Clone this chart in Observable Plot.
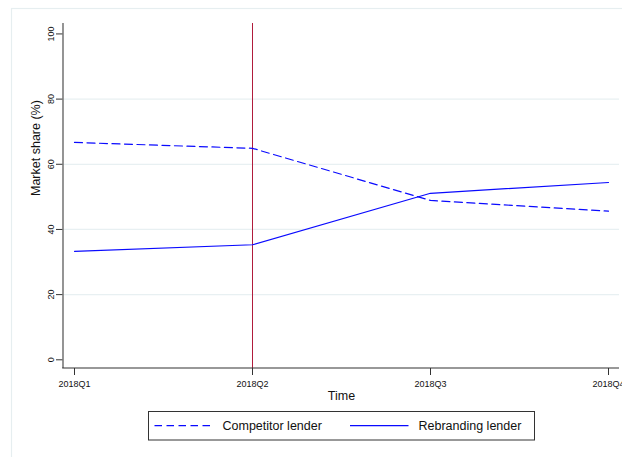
<!DOCTYPE html>
<html>
<head>
<meta charset="utf-8">
<script src="https://cdn.jsdelivr.net/npm/d3@7"></script>
<script src="https://cdn.jsdelivr.net/npm/@observablehq/plot@0.6"></script>
<style>
  html, body { margin: 0; padding: 0; background: #fff; }
  #chart svg { display: block; font-family: "Liberation Sans", Arial, Helvetica, sans-serif; }
</style>
</head>
<body>
<div id="chart"></div>
<script>
const quarters = ["2018Q1", "2018Q2", "2018Q3", "2018Q4"];
const competitor = [66.7, 64.9, 48.9, 45.6];
const rebranding = [33.3, 35.3, 51.1, 54.4];
const yTicks = [0, 20, 40, 60, 80, 100];
const gridTicks = [20, 40, 60, 80];
const eventQuarter = "2018Q2";
const seriesNames = ["Competitor lender", "Rebranding lender"];

const rows = [];
quarters.forEach((q, i) => {
  rows.push({quarter: q, value: competitor[i], series: seriesNames[0]});
  rows.push({quarter: q, value: rebranding[i], series: seriesNames[1]});
});

const W = 622, H = 457;
const yDomain = [-2.67, 103.2];

const plot = Plot.plot({
  width: W,
  height: H,
  marginLeft: 63,
  marginRight: 3,
  marginTop: 23,
  marginBottom: 89,
  style: {fontFamily: '"Liberation Sans", Arial, Helvetica, sans-serif', background: "#fff", overflow: "visible"},
  x: {type: "point", domain: quarters, padding: 0.056, align: 0.5},
  y: {domain: yDomain},
  marks: [
    Plot.ruleY(gridTicks, {stroke: "#e8f0f2", strokeWidth: 1.2}),
    Plot.ruleX([eventQuarter], {stroke: "#b01c3c", strokeWidth: 1}),
    Plot.line(rows.filter(d => d.series === seriesNames[0]), {x: "quarter", y: "value", stroke: "#0a0aff", strokeWidth: 1.2, strokeDasharray: "8,4.5"}),
    Plot.line(rows.filter(d => d.series === seriesNames[1]), {x: "quarter", y: "value", stroke: "#0a0aff", strokeWidth: 1.2}),
    Plot.axisY({ticks: yTicks, tickRotate: -90, tickSize: 7, tickPadding: 3, fontSize: 9, label: null, stroke: "#333", color: "#111"}),
    Plot.axisX({tickSize: 7, tickPadding: 5, fontSize: 9, label: null, stroke: "#333", color: "#111"}),
    Plot.text(["Time"], {frameAnchor: "bottom", dy: 31, fontSize: 12.5, fill: "#111", lineAnchor: "bottom"}),
    Plot.text(["Market share (%)"], {frameAnchor: "left", dx: -24, rotate: -90, fontSize: 12.5, fill: "#111", lineAnchor: "bottom"})
  ]
});

const svg = d3.select(plot);
// axis lines
svg.append("line").attr("x1", 63).attr("x2", 63).attr("y1", 23).attr("y2", 368)
  .attr("stroke", "#7a7a7a").attr("stroke-width", 1.6);
svg.append("line").attr("x1", 62.2).attr("x2", 619).attr("y1", 368).attr("y2", 368)
  .attr("stroke", "#333").attr("stroke-width", 1.2);
// outer frame
svg.insert("rect", ":first-child").attr("x", 11.5).attr("y", 8.5).attr("width", 700).attr("height", 600)
  .attr("fill", "none").attr("stroke", "#e6eef0").attr("stroke-width", 1.2);

// legend
const lg = svg.append("g").attr("font-size", 12.5).attr("fill", "#111").attr("text-anchor", "start");
lg.append("rect").attr("x", 148.5).attr("y", 411.5).attr("width", 386).attr("height", 28.5)
  .attr("fill", "#fff").attr("stroke", "#333").attr("stroke-width", 1);
lg.append("line").attr("x1", 154.5).attr("x2", 213).attr("y1", 425.7).attr("y2", 425.7)
  .attr("stroke", "#0a0aff").attr("stroke-width", 1.2).attr("stroke-dasharray", "7.5,4.5");
lg.append("text").attr("x", 222.5).attr("y", 430).attr("text-anchor", "start").text(seriesNames[0]);
lg.append("line").attr("x1", 350).attr("x2", 408.5).attr("y1", 425.7).attr("y2", 425.7)
  .attr("stroke", "#0a0aff").attr("stroke-width", 1.2);
lg.append("text").attr("x", 418.5).attr("y", 430).attr("text-anchor", "start").text(seriesNames[1]);

document.getElementById("chart").appendChild(plot);
</script>
</body>
</html>
